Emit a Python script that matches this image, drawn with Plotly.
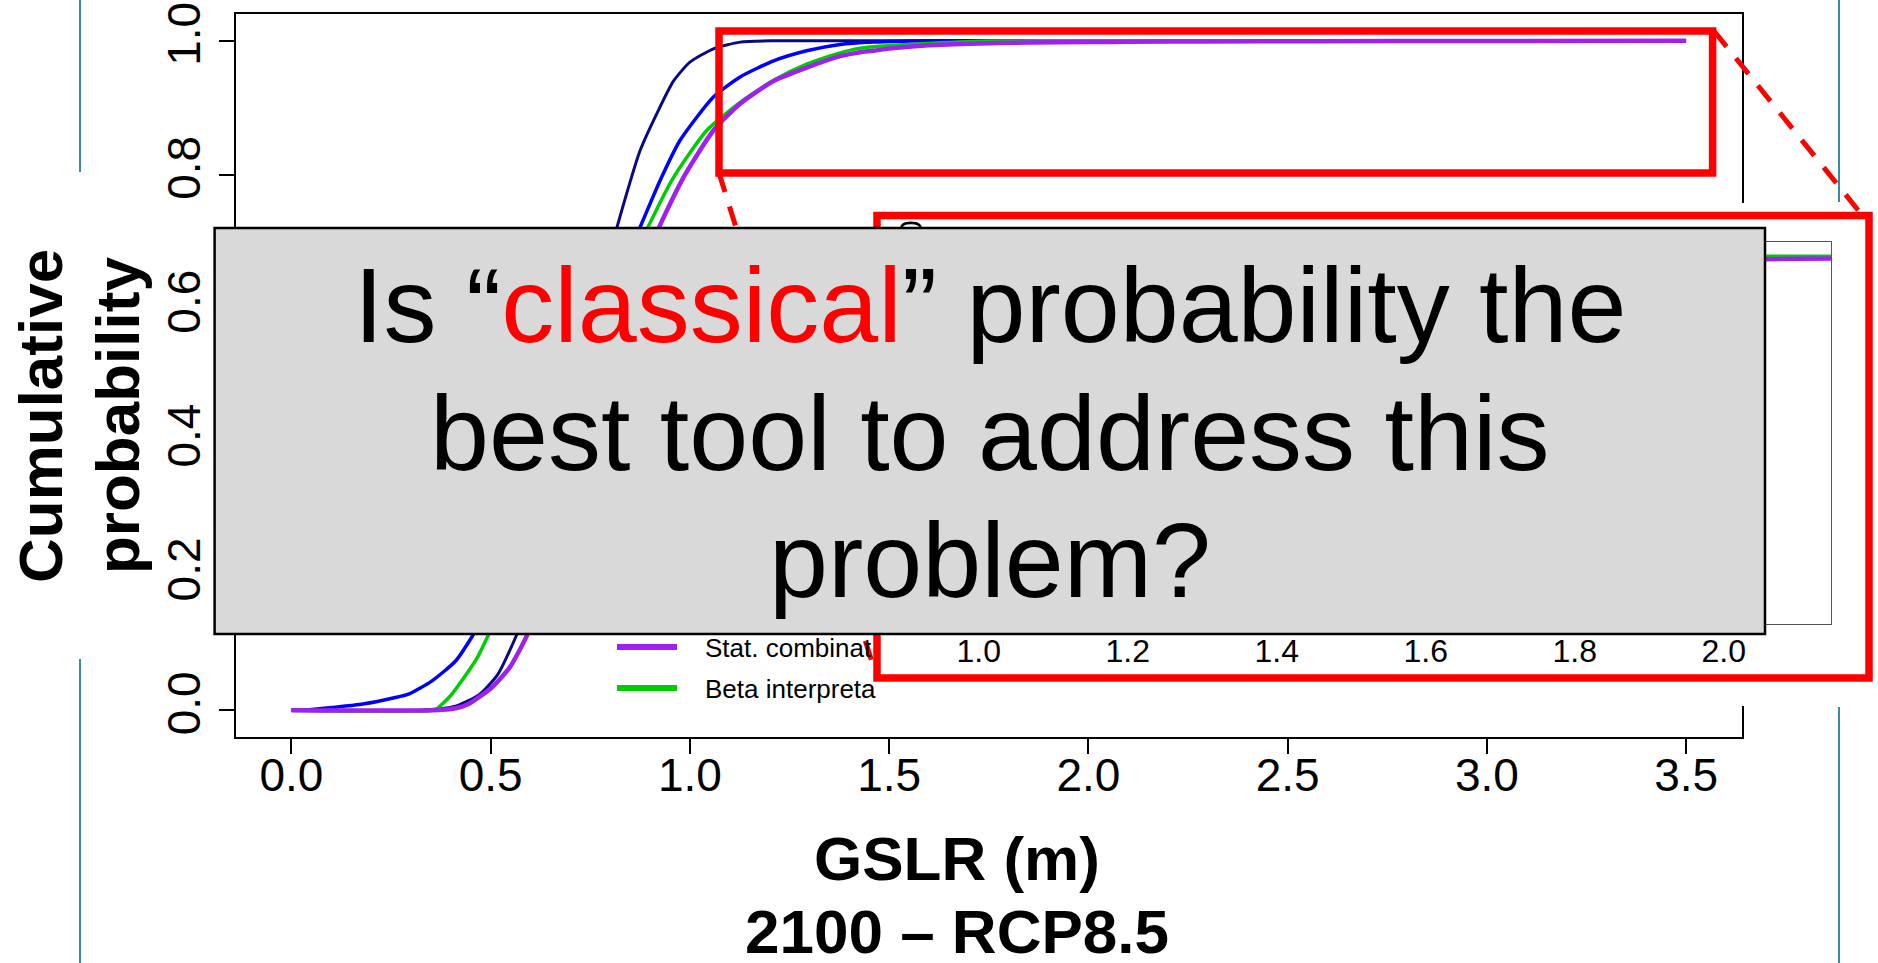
import plotly.graph_objects as go

W, H = 1878, 963
FONT = "Liberation Sans, Arial, Helvetica, sans-serif"

# ---------------- data ----------------
navy_x = [0.0, 0.322, 0.412, 0.472, 0.518, 0.566, 0.60, 0.65, 0.70, 0.75, 0.80, 0.837, 0.875,
          0.92, 0.959, 1.0, 1.059, 1.126, 1.21, 1.5, 1.753]
navy_y = [0.0, 0.0, 0.006, 0.0235, 0.0535, 0.1135, 0.165, 0.27, 0.405, 0.55, 0.683, 0.763, 0.836,
          0.895, 0.94, 0.968, 0.988, 0.998, 1.0, 1.0, 1.0]

blue_x = [0.0, 0.051, 0.10, 0.171, 0.23, 0.292, 0.352, 0.412, 0.457, 0.50, 0.55, 0.60, 0.65, 0.70,
          0.75, 0.80, 0.876, 0.925, 0.975, 1.059, 1.126, 1.21, 1.293, 1.377, 1.46, 1.6, 1.87]
blue_y = [0.0, 0.001, 0.004, 0.0085, 0.015, 0.0235, 0.0435, 0.0735, 0.1135, 0.159, 0.224, 0.299,
          0.379, 0.461, 0.541, 0.616, 0.723, 0.791, 0.851, 0.916, 0.946, 0.970, 0.985, 0.9945,
          0.998, 1.0, 1.0]

green_x = [0.0, 0.355, 0.367, 0.40, 0.427, 0.465, 0.495, 0.55, 0.60, 0.65, 0.70, 0.75, 0.80, 0.85,
           0.896, 0.959, 1.042, 1.126, 1.21, 1.293, 1.377, 1.427, 1.5, 1.6, 1.753, 2.0, 2.56]
green_y = [0.0, 0.0, 0.003, 0.022, 0.0435, 0.077, 0.1135, 0.19, 0.268, 0.35, 0.435, 0.517, 0.593,
           0.662, 0.723, 0.796, 0.866, 0.908, 0.941, 0.965, 0.982, 0.989, 0.993, 0.996, 0.9995,
           1.0, 1.0]

purple_x = [0.0, 0.352, 0.412, 0.442, 0.503, 0.548, 0.593, 0.65, 0.70, 0.75, 0.80, 0.85, 0.924,
            0.984, 1.059, 1.126, 1.21, 1.293, 1.377, 1.427, 1.46, 1.5, 1.59, 1.7, 1.85, 2.0,
            2.1, 2.3, 2.56, 3.0, 3.5]
purple_y = [0.0, 0.0, 0.003, 0.0085, 0.034, 0.064, 0.114, 0.205, 0.305, 0.41, 0.512, 0.605, 0.723,
            0.796, 0.866, 0.906, 0.940, 0.960, 0.977, 0.983, 0.985, 0.9885, 0.993, 0.9955,
            0.9975, 0.998, 0.9985, 0.999, 0.9994, 0.9997, 0.9999]

series_names = ["Series 1", "Series 2", "Beta interpretation", "Stat. combination"]
legend_labels = ["Stat. combinat", "Beta interpreta"]

x_ticks = [0.0, 0.5, 1.0, 1.5, 2.0, 2.5, 3.0, 3.5]
x_ticktext = ["0.0", "0.5", "1.0", "1.5", "2.0", "2.5", "3.0", "3.5"]
y_ticks = [0.0, 0.2, 0.4, 0.6, 0.8, 1.0]
y_ticktext = ["0.0", "0.2", "0.4", "0.6", "0.8", "1.0"]
inset_x_ticks = [1.0, 1.2, 1.4, 1.6, 1.8, 2.0]
inset_x_ticktext = ["1.0", "1.2", "1.4", "1.6", "1.8", "2.0"]
inset_y_ticks = [0.80, 0.85, 0.90, 0.95, 1.00]
inset_y_ticktext = ["0.80", "0.85", "0.90", "0.95", "1.00"]

question_lines = ['Is \u201c<span style="color:#FF0000">classical</span>\u201d probability the',
                  "best tool to address this",
                  "problem?"]

# ---------------- styles ----------------
NAVY, BLUE, GREEN, PURPLE = "#0A0A80", "#0000FF", "#00CD00", "#A020F0"
TEAL = "#3A8AA6"
RED = "#FF0000"


def px(x):
    return x / W


def py(y):
    return 1 - y / H


styles = [(NAVY, 3), (BLUE, 3.5), (GREEN, 3.5), (PURPLE, 4.5)]
data = [(navy_x, navy_y), (blue_x, blue_y), (green_x, green_y), (purple_x, purple_y)]

fig = go.Figure()
for (xs, ys), (col, wd), nm in zip(data, styles, series_names):
    fig.add_trace(go.Scatter(x=xs, y=ys, mode="lines", name=nm, showlegend=False,
                             line=dict(color=col, width=wd, shape="spline", smoothing=0.6),
                             xaxis="x", yaxis="y"))

# empty cover subplot (white background panel behind the inset)
fig.add_trace(go.Scatter(x=[], y=[], xaxis="x2", yaxis="y2", showlegend=False, hoverinfo="skip"))

for (xs, ys), (col, wd), nm in zip(data, styles, series_names):
    fig.add_trace(go.Scatter(x=xs, y=ys, mode="lines", name=nm, showlegend=False,
                             line=dict(color=col, width=wd, shape="spline", smoothing=0.6),
                             xaxis="x3", yaxis="y3"))

axis_common = dict(showgrid=False, zeroline=False, showline=True, mirror=True,
                   ticks="outside", tickcolor="black", automargin=False)

fig.update_layout(
    width=W, height=H, margin=dict(l=0, r=0, t=0, b=0, autoexpand=False),
    paper_bgcolor="white", plot_bgcolor="white", showlegend=False,
    xaxis=dict(domain=[px(235.6), px(1742)], range=[-0.14, 3.64], anchor="y",
               tickvals=x_ticks, ticktext=x_ticktext, ticklen=15, tickwidth=1.5,
               ticklabelstandoff=-18,
               linecolor="black", linewidth=1.5,
               tickfont=dict(family=FONT, size=46, color="black"), **axis_common),
    yaxis=dict(domain=[py(737), py(14)], range=[-0.04, 1.04], anchor="x",
               tickvals=y_ticks, ticktext=y_ticktext, ticklen=15, tickwidth=1.5, tickangle=-90,
               linecolor="black", linewidth=1.5,
               tickfont=dict(family=FONT, size=46, color="black"), **axis_common),
    xaxis2=dict(domain=[px(866), px(1874)], anchor="y2", visible=False, range=[0, 1],
                automargin=False),
    yaxis2=dict(domain=[py(706), py(203)], anchor="x2", visible=False, range=[0, 1],
                automargin=False),
    xaxis3=dict(domain=[px(946), px(1831)], range=[0.956, 2.144], anchor="y3",
                tickvals=inset_x_ticks, ticktext=inset_x_ticktext, ticklen=10, tickwidth=1,
                ticklabelstandoff=-12,
                linecolor="#555555", linewidth=1.2,
                tickfont=dict(family=FONT, size=32, color="black"), **axis_common),
    yaxis3=dict(domain=[py(624), py(242)], range=[0.792, 1.008], anchor="x3",
                tickvals=inset_y_ticks, ticktext=inset_y_ticktext, ticklen=10, tickwidth=1,
                tickangle=-90, linecolor="#555555", linewidth=1.2,
                tickfont=dict(family=FONT, size=32, color="black"), **axis_common),
)

shapes = []
# teal slide guide lines
for x, y0, y1 in [(80, 0, 172), (80, 659, 963), (1839, 0, 202), (1839, 707, 963)]:
    shapes.append(dict(type="line", xref="paper", yref="paper", x0=px(x), x1=px(x),
                       y0=py(y0), y1=py(y1), line=dict(color=TEAL, width=2)))
# zoom rectangle on the main plot
shapes.append(dict(type="rect", xref="paper", yref="paper", x0=px(719), x1=px(1712.6),
                   y0=py(173), y1=py(31), line=dict(color=RED, width=7.5)))
# dashed connector lines
shapes.append(dict(type="line", xref="paper", yref="paper", x0=px(1714), y0=py(31),
                   x1=px(1862), y1=py(215), line=dict(color=RED, width=5, dash="20px,15px")))
shapes.append(dict(type="line", xref="paper", yref="paper", x0=px(719), y0=py(173),
                   x1=px(877), y1=py(678), line=dict(color=RED, width=5, dash="20px,15px")))
# inset frame
shapes.append(dict(type="rect", xref="paper", yref="paper", x0=px(877), x1=px(1869),
                   y0=py(678), y1=py(215.5), line=dict(color=RED, width=7.5)))
# legend swatches
for yv, col in [(647, PURPLE), (688, GREEN)]:
    shapes.append(dict(type="line", xref="paper", yref="paper", x0=px(617), x1=px(677),
                       y0=py(yv), y1=py(yv), line=dict(color=col, width=6)))
# grey question box
shapes.append(dict(type="rect", xref="paper", yref="paper", x0=px(214.6), x1=px(1765),
                   y0=py(634), y1=py(228), fillcolor="#D9D9D9",
                   line=dict(color="black", width=2.5)))
fig.update_layout(shapes=shapes)

ann = []
# legend labels
for lab, yv in zip(legend_labels, [648, 689]):
    ann.append(dict(text=lab, x=px(703), y=py(yv), xref="paper", yref="paper",
                    xanchor="left", yanchor="middle", showarrow=False,
                    font=dict(family=FONT, size=26, color="black")))
# y axis title (two rotated lines)
for txt, xc in [("<b>Cumulative</b>", 40), ("<b>probability</b>", 117)]:
    ann.append(dict(text=txt, x=px(xc), y=py(416), xref="paper", yref="paper",
                    xanchor="center", yanchor="middle", textangle=-90, showarrow=False,
                    font=dict(family=FONT, size=62, color="black")))
# x axis title (two lines)
for txt, yc in [("<b>GSLR (m)</b>", 858), ("<b>2100 \u2013 RCP8.5</b>", 931)]:
    ann.append(dict(text=txt, x=px(957), y=py(yc), xref="paper", yref="paper",
                    xanchor="center", yanchor="middle", showarrow=False,
                    font=dict(family=FONT, size=62, color="black")))
# question text
for txt, yc in zip(question_lines, [305, 433, 560]):
    ann.append(dict(text=txt, x=px(990), y=py(yc), xref="paper", yref="paper",
                    xanchor="center", yanchor="middle", showarrow=False,
                    font=dict(family=FONT, size=106, color="black")))
fig.update_layout(annotations=ann)

fig.write_html("out.html", config={"displayModeBar": False},
               post_script="document.body.style.margin='0px';document.body.style.overflow='hidden';")
